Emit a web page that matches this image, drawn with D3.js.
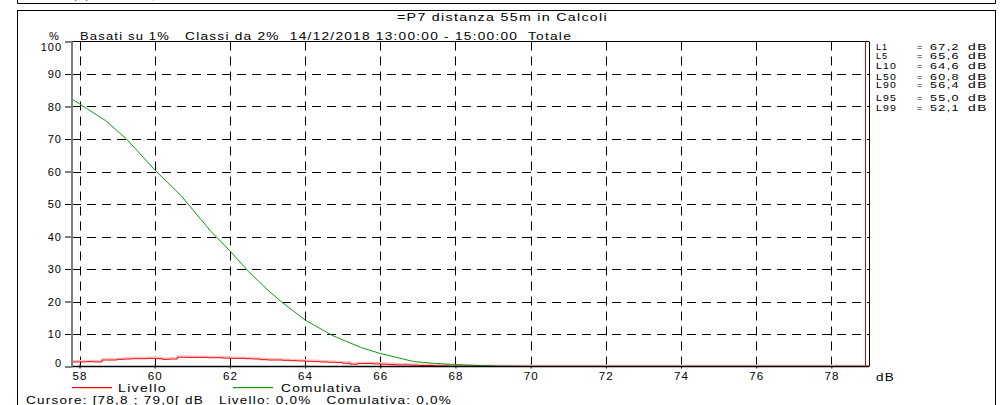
<!DOCTYPE html>
<html>
<head>
<meta charset="utf-8">
<script src="https://cdn.jsdelivr.net/npm/d3@7"></script>
<style>
  body { margin: 0; background: #fff; }
  svg { display: block; font-family: "Liberation Sans", Arial, sans-serif; }
  text { letter-spacing: 1px; white-space: pre; }
</style>
</head>
<body>
<div id="chart"></div>
<script>
// Livello: % per classe da 0,2 dB, a partire da 57,8 dB
const classStart = 57.8;
const classWidth = 0.2;
const livello = [1.4, 1.4, 1.5, 1.4, 2.0, 2.0, 2.2, 2.3, 2.4, 2.4, 2.5, 2.4, 2.2, 2.3,
  2.85, 2.8, 2.8, 2.8, 2.7, 2.7, 2.6, 2.5, 2.5, 2.4, 2.3, 2.1, 2.0, 2.0, 1.9, 1.8,
  1.7, 1.6, 1.5, 1.4, 1.3, 1.2, 1.0, 0.7, 0.9, 0.9, 0.8, 0.7, 0.6, 0.5, 0.5, 0.4,
  0.3, 0.3, 0.2, 0.2, 0.1, 0.1, 0.1, 0.1, 0.05, 0.05, 0, 0];
const livelloEnd = [79.0, 0];

// Comulativa (% del tempo sopra il livello)
const cumDb  = [57.8, 58.0, 58.7, 59.25, 60.0, 60.7, 61.5, 62.0, 62.5, 63.0, 63.35, 64.0, 64.75, 65.5, 66.0, 66.9, 67.4, 68.0, 68.6, 69.2, 70.0, 79.0];
const cumVal = [82.3, 80.8, 75.6, 70.0, 60.5, 52.6, 41.5, 35.6, 29.2, 23.6, 20.1, 14.3, 9.4, 5.8, 4.0, 1.5, 1.0, 0.6, 0.3, 0.1, 0, 0];

const xTicks = [58, 60, 62, 64, 66, 68, 70, 72, 74, 76, 78];
const yTicks = [0, 10, 20, 30, 40, 50, 60, 70, 80, 90, 100];
const cursorDb = 78.9;

const statNames  = ['L1', 'L5', 'L10', 'L50', 'L90', 'L95', 'L99'];
const statValues = ['67,2', '65,6', '64,6', '60,8', '56,4', '55,0', '52,1'];

const title = '=P7 distanza 55m in Calcoli';
const subtitleA = 'Basati su 1%';
const subtitleB = 'Classi da 2%  14/12/2018 13:00:00 - 15:00:00  Totale';
const cursorText = 'Cursore: [78,8 ; 79,0[ dB   Livello: 0,0%   Comulativa: 0,0%';

// layout
const width = 1002, height = 405;
const statY = [46, 55, 65, 76, 84, 97, 107];

const svg = d3.select('#chart').append('svg')
    .attr('width', width)
    .attr('height', height);

// the source font is wider than Arial: stretch texts to their measured widths
function label(px, py, str, len, size) {
    const t = svg.append('text').attr('x', px).attr('y', py)
        .attr('font-size', size || 11).text(str);
    if (len) t.attr('textLength', len).attr('lengthAdjust', 'spacingAndGlyphs');
    return t;
}

const x = d3.scaleLinear().domain([57.8, 79.0]).range([72, 869]);
const y = d3.scaleLinear().domain([0, 100]).range([366.5, 41.5]);

// frames
svg.append('path').attr('d', 'M17.5,0V3.5H995.5V0').attr('fill', 'none').attr('stroke', '#000');
label(40, -1, 'Livello (%) distribuzione, Calcoli', 150);
svg.append('rect').attr('x', 17.5).attr('y', 10.5).attr('width', 978).attr('height', 420)
    .attr('fill', 'none').attr('stroke', '#000');

label(397, 21, title, 211);
label(49, 40, '%');
label(80, 40, subtitleA, 90);
label(185, 40, subtitleB, 387);

// grid
const grid = svg.append('g').attr('stroke', '#000').attr('stroke-dasharray', '9,6').attr('fill', 'none');
grid.selectAll('line.v').data(xTicks).join('line')
    .attr('class', 'v')
    .attr('x1', d => Math.round(x(d)) + 0.5).attr('x2', d => Math.round(x(d)) + 0.5)
    .attr('y1', y(100)).attr('y2', y(0));
grid.selectAll('line.h').data(yTicks.slice(1, -1)).join('line')
    .attr('class', 'h')
    .attr('x1', x.range()[0]).attr('x2', x.range()[1])
    .attr('y1', d => Math.round(y(d)) + 0.5).attr('y2', d => Math.round(y(d)) + 0.5);

// x axis
const xAxis = svg.append('g')
    .attr('transform', `translate(0,${y(0)})`)
    .call(d3.axisBottom(x).tickValues(xTicks).tickSize(4).tickSizeOuter(0).tickPadding(2))
    .attr('font-family', null).attr('font-size', 11);
xAxis.select('.domain').remove();
xAxis.selectAll('.tick line').attr('transform', 'translate(0,-2)');
xAxis.selectAll('.tick text').attr('textLength', 15).attr('lengthAdjust', 'spacingAndGlyphs');
label(876, 381, 'dB', 19);

// y axis
const yAxis = svg.append('g')
    .attr('transform', `translate(${x.range()[0]},0)`)
    .call(d3.axisLeft(y).tickValues(yTicks).tickSize(7).tickSizeOuter(0).tickPadding(3))
    .attr('font-family', null).attr('font-size', 11);
yAxis.select('.domain').remove();
yAxis.selectAll('.tick text')
    .attr('y', d => d === 100 ? 5 : (d === 0 ? -4 : 0));

// frame lines of the plot
svg.append('line').attr('x1', x.range()[0]).attr('x2', x.range()[1]).attr('y1', y(100)).attr('y2', y(100)).attr('stroke', '#000');
svg.append('line').attr('x1', x.range()[1] + 0.5).attr('x2', x.range()[1] + 0.5).attr('y1', y(100)).attr('y2', y(0)).attr('stroke', '#000');

// series
const livelloPts = livello.map((v, i) => [classStart + i * classWidth, v]).concat([livelloEnd]);
const stepLine = d3.line().x(d => x(d[0])).y(d => y(d[1])).curve(d3.curveStepAfter);
svg.append('path').datum(livelloPts)
    .attr('d', stepLine).attr('fill', 'none')
    .attr('stroke', '#ffc4c4').attr('stroke-width', 1.5)
    .attr('transform', 'translate(0,-1.2)');
svg.append('path').datum(livelloPts)
    .attr('d', stepLine).attr('fill', 'none')
    .attr('stroke', '#ff0000').attr('stroke-width', 1);

const cumPts = cumDb.map((d, i) => [d, cumVal[i]]);
svg.append('path').datum(cumPts)
    .attr('d', d3.line().x(d => x(d[0])).y(d => y(d[1])))
    .attr('fill', 'none').attr('stroke', '#109c10').attr('stroke-width', 1);

// axis lines on top
svg.append('line').attr('x1', x.range()[0]).attr('x2', x.range()[1]).attr('y1', y(0)).attr('y2', y(0)).attr('stroke', '#000').attr('stroke-width', 1.5);
svg.append('line').attr('x1', x.range()[0]).attr('x2', x.range()[0]).attr('y1', y(100)).attr('y2', y(0)).attr('stroke', '#808080').attr('stroke-width', 2);

// cursor
svg.append('line').attr('x1', Math.round(x(cursorDb)) + 0.5).attr('x2', Math.round(x(cursorDb)) + 0.5)
    .attr('y1', y(100)).attr('y2', y(0)).attr('stroke', '#e00000').attr('stroke-width', 1);

// statistics
const stats = svg.append('g').attr('font-size', 9);
stats.selectAll('text.n').data(statNames).join('text')
    .attr('class', 'n').attr('x', 876).attr('y', (d, i) => statY[i] + 3.5)
    .each(function(d) {
        if (d.length > 2) d3.select(this).attr('textLength', 21).attr('lengthAdjust', 'spacingAndGlyphs');
    })
    .text(d => d);
stats.selectAll('text.e').data(statNames).join('text')
    .attr('class', 'e').attr('x', 917).attr('y', (d, i) => statY[i] + 3.5).text('=');
stats.selectAll('text.v').data(statValues).join('text')
    .attr('class', 'v').attr('x', 930).attr('y', (d, i) => statY[i] + 3.5)
    .attr('textLength', 30).attr('lengthAdjust', 'spacingAndGlyphs')
    .text(d => d);
stats.selectAll('text.u').data(statValues).join('text')
    .attr('class', 'u').attr('x', 968).attr('y', (d, i) => statY[i] + 3.5)
    .attr('textLength', 20).attr('lengthAdjust', 'spacingAndGlyphs')
    .text('dB');

// legend
svg.append('rect').attr('x', 72).attr('y', 387).attr('width', 40).attr('height', 1.2)
    .attr('fill', '#ff0000');
label(118, 392, 'Livello', 49);
svg.append('rect').attr('x', 233).attr('y', 387).attr('width', 40).attr('height', 1.2)
    .attr('fill', '#109c10');
label(281, 392, 'Comulativa', 81);

label(26, 404, cursorText, 426);
</script>
</body>
</html>
